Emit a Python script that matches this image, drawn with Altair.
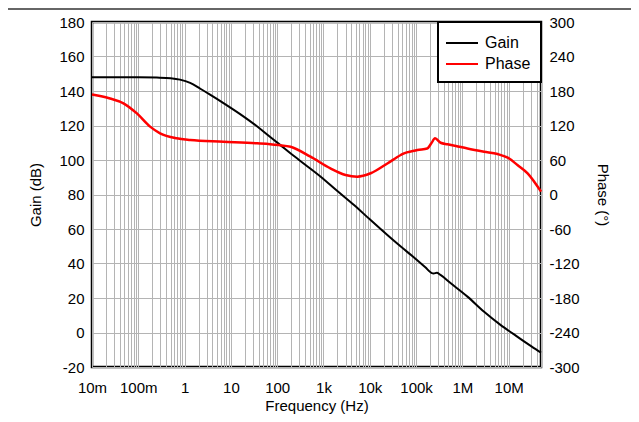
import altair as alt
import pandas as pd

# ---- data ----
gain_logf = [-2.0, -1.5, -1.0, -0.6, -0.3, -0.1, 0.12, 0.34, 0.55, 0.84, 1.2, 1.57, 1.85,
             2.03, 2.3, 2.6, 2.94, 3.3, 3.66, 4.0, 4.38, 4.67, 5.0, 5.2, 5.33, 5.38, 5.45,
             5.52, 5.75, 6.11, 6.47, 6.83, 7.1, 7.34, 7.5, 7.7]
gain_db = [148, 148, 148, 147.8, 147.4, 146.6, 144.7, 141.3, 137.9, 133, 126.6, 119.4, 113.3,
           109.5, 103.6, 97.4, 90.3, 82, 73.9, 65.6, 56.5, 49.8, 42.5, 37.8, 34.6, 34.2, 34.6,
           33.5, 28.5, 20.8, 12, 4.3, -0.8, -5.3, -8.2, -11.7]

phase_logf = [-2.0, -1.8, -1.61, -1.32, -1.03, -0.745, -0.53, -0.17, 0.12, 0.84, 1.565,
              1.85, 2.03, 2.29, 2.72, 3.15, 3.476, 3.73, 4.02, 4.38, 4.67, 4.74, 4.96,
              5.03, 5.24, 5.33, 5.41, 5.53, 5.68, 5.86, 6.11, 6.47, 6.76, 6.98, 7.19,
              7.41, 7.7]
phase_deg = [174, 171, 167, 158.6, 141, 118, 106.4, 97.7, 94.8, 91.9, 89,
             87.5, 86, 83, 65.7, 45.5, 34, 31, 36.9, 54, 68.7, 71.6, 76,
             77.4, 80, 89, 97.7, 90, 87.3, 84.3, 80, 74.5, 70.4, 64, 51.3,
             36.9, 4.9]

decade_values = [0.01, 0.1, 1, 10, 100, 1000, 10000, 100000, 1000000, 10000000]
decade_labels = ["10m", "100m", "1", "10", "100", "1k", "10k", "100k", "1M", "10M"]
gain_ticks = list(range(-20, 181, 20))
phase_ticks = list(range(-300, 301, 60))
series_names = ["Gain", "Phase"]
series_colors = ["#000000", "#ff0000"]

FONT = "Liberation Sans"
GRID = "#b4b4b4"

# grid positions 1..9 x each decade
grid_values = []
for d in range(-2, 8):
    for k in range(1, 10):
        v = float(f"{k}e{d}")
        if v <= 5e7:
            grid_values.append(v)

label_expr = ""
for v, lab in zip(decade_values, decade_labels):
    label_expr += f"datum.value == {v} ? '{lab}' : "
label_expr += "''"

gain_df = pd.DataFrame({"f": [10 ** x for x in gain_logf], "v": gain_db, "series": "Gain"})
phase_df = pd.DataFrame({"f": [10 ** x for x in phase_logf], "v": phase_deg, "series": "Phase"})

x_enc = alt.X(
    "f:Q",
    scale=alt.Scale(type="log", domain=[0.01, 5e7], nice=False),
    axis=alt.Axis(
        values=grid_values, labelExpr=label_expr, title="Frequency (Hz)",
        grid=True, gridColor=GRID, gridWidth=1, ticks=False, domain=False,
        labelOverlap=False, labelFlush=False, labelPadding=13, titlePadding=3,
    ),
)

color_enc = alt.Color(
    "series:N",
    scale=alt.Scale(domain=series_names, range=series_colors),
    legend=alt.Legend(
        title=None, orient="top-right", offset=0, padding=10,
        strokeColor="black", fillColor="white",
        symbolType="M-1.6,0L1.6,0", symbolSize=400, symbolStrokeWidth=2,
        symbolOffset=3,
        labelFontSize=16, labelFont=FONT, labelColor="black", labelOffset=12,
        rowPadding=2,
    ),
)

phase_layer = alt.Chart(phase_df).mark_line(strokeWidth=2.5, interpolate="monotone").encode(
    x=x_enc,
    y=alt.Y(
        "v:Q",
        scale=alt.Scale(domain=[-300, 300], nice=False),
        axis=alt.Axis(
            orient="right", values=phase_ticks, title="Phase (°)", grid=False,
            labelExpr="'' + datum.value",
            ticks=False, domain=False, labelFlush=False, labelPadding=8, titlePadding=15,
        ),
    ),
    color=color_enc,
)

gain_layer = alt.Chart(gain_df).mark_line(strokeWidth=2, interpolate="monotone").encode(
    x=x_enc,
    y=alt.Y(
        "v:Q",
        scale=alt.Scale(domain=[-20, 180], nice=False),
        axis=alt.Axis(
            orient="left", values=gain_ticks, title="Gain (dB)", grid=True,
            labelExpr="'' + datum.value",
            gridColor=GRID, gridWidth=1, ticks=False, domain=False,
            labelFlush=False, labelPadding=8, titlePadding=15,
        ),
    ),
    color=color_enc,
)

top_rule = alt.Chart(pd.DataFrame({"a": [0]})).mark_rule(color="#333333", strokeWidth=1.5).encode(
    x=alt.value(-84), x2=alt.value(539), y=alt.value(-13)
)

chart = (
    alt.layer(gain_layer, phase_layer, top_rule)
    .resolve_scale(y="independent")
    .properties(
        width=449, height=345,
        autosize=alt.AutoSizeParams(type="none"),
        padding={"left": 84, "top": 14, "right": 90, "bottom": 50},
    )
    .configure_view(stroke="black", strokeWidth=2.5)
    .configure_axis(
        labelFont=FONT, labelFontSize=15, labelColor="black",
        titleFont=FONT, titleFontSize=15, titleFontWeight="normal", titleColor="black",
    )
    .configure_legend(strokeWidth=2)
)

chart.save("out.html", embed_options={"renderer": "svg", "actions": False})
